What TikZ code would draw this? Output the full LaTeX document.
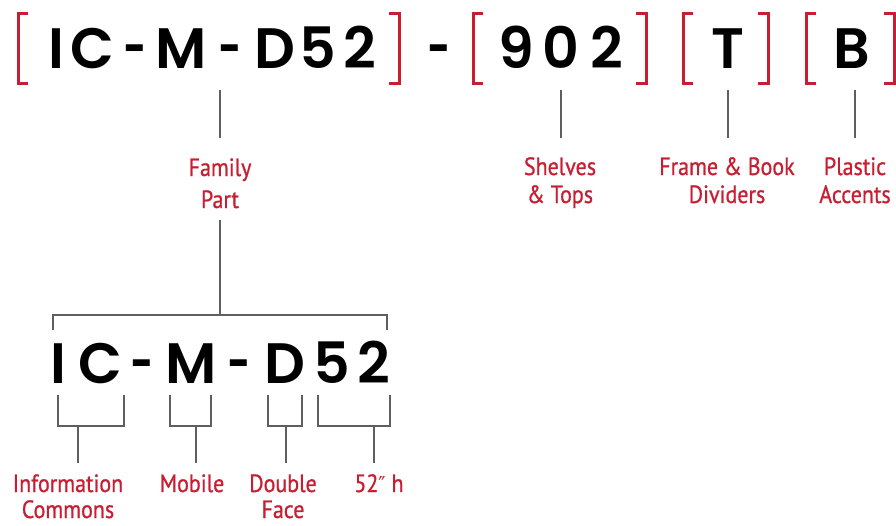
\documentclass[tikz,border=0pt]{standalone}
\usepackage{fontspec}
\newfontfamily\bigf{Poppins}[UprightFont=* SemiBold]
\newfontfamily\labf{PT Sans}[FakeStretch=0.88,FakeBold=0.8]
\newfontfamily\symf{DejaVu Sans}[FakeStretch=0.88]
\definecolor{accent}{RGB}{200,30,50}
\definecolor{rulegray}{RGB}{95,95,95}
\begin{document}
\begin{tikzpicture}[x=1pt,y=-1pt,
  big/.style={font=\bigf\fontsize{57}{57}\selectfont, anchor=base, inner sep=0pt},
  dash sign/.style={big, xscale=0.7},
  lab/.style={font=\labf\fontsize{25}{28}\selectfont, text=accent, anchor=base, inner sep=0pt},
  brk/.style={draw=accent, line width=3pt},
  conn/.style={draw=rulegray, line width=1.5pt}]
\useasboundingbox (0,0) rectangle (896,525);
% ---- top code
\node[big] (tI) at (56,68) {I};
\node[big] (tC) at (92,68) {C};
\node[dash sign] (th1) at (135,68) {-};
\node[big] (tM) at (181,68) {M};
\node[dash sign] (th2) at (230,68) {-};
\node[big] (tD) at (275,68) {D};
\node[big] (t5) at (318,68) {5};
\node[big] (t2) at (360,68) {2};
\node[dash sign] (th3) at (439,68) {-};
\node[big] (t9) at (516,68) {9};
\node[big] (t0) at (561,68) {0};
\node[big] (t2b) at (607,68) {2};
\node[big] (tT) at (728,68) {T};
\node[big] (tB) at (852,68) {B};
% brackets
\draw[brk] (28,13) -| (18,83) -- (28,83);
\draw[brk] (389,13) -| (399,83) -- (389,83);
\draw[brk] (483,13) -| (473,83) -- (483,83);
\draw[brk] (636,13) -| (646,83) -- (636,83);
\draw[brk] (693,13) -| (683,83) -- (693,83);
\draw[brk] (758,13) -| (768,83) -- (758,83);
\draw[brk] (816,13) -| (806,83) -- (816,83);
\draw[brk] (884,13) -| (894,83) -- (884,83);
% labels top
\node[lab] (fam1) at (220,176) {Family};
\node[lab] (fam2) at (220,208) {Part};
\node[lab] (sh1) at (560,175) {Shelves};
\node[lab] (sh2) at (560,203) {\& Tops};
\node[lab] (fr1) at (727,175) {Frame \& Book};
\node[lab] (fr2) at (727,203) {Dividers};
\node[lab] (pl1) at (855,175) {Plastic};
\node[lab] (pl2) at (855,203) {Accents};
% connectors top
\coordinate (cA) at (220,90);
\coordinate (cAe) at (220,138);
\coordinate (cB) at (561,90);
\coordinate (cBe) at (561,138);
\coordinate (cC) at (728,90);
\coordinate (cCe) at (728,138);
\coordinate (cD) at (855,90);
\coordinate (cDe) at (855,138);
\draw[conn] (cA) -- (cAe);
\draw[conn] (cB) -- (cBe);
\draw[conn] (cC) -- (cCe);
\draw[conn] (cD) -- (cDe);
% family part down to bracket
\coordinate (fp) at (220,220);
\coordinate (fpb) at (220,315);
\coordinate (brL) at (53,330);
\coordinate (brR) at (387,330);
\draw[conn] (fp) -- (fpb);
\draw[conn] (brL) |- (fpb) -| (brR);
% ---- bottom code
\node[big] (bI) at (58,383) {I};
\node[big] (bC) at (100,383) {C};
\node[dash sign] (bh1) at (142,383) {-};
\node[big] (bM) at (191,383) {M};
\node[dash sign] (bh2) at (239,383) {-};
\node[big] (bD) at (285,383) {D};
\node[big] (b5) at (332,383) {5};
\node[big] (b2) at (374,383) {2};
% lower brackets
\coordinate (g1a) at (58,395);  \coordinate (g1b) at (124,395); \coordinate (g1s) at (78,426);  \coordinate (g1e) at (78,463);
\coordinate (g2a) at (170,395); \coordinate (g2b) at (211,395); \coordinate (g2s) at (196,426); \coordinate (g2e) at (196,463);
\coordinate (g3a) at (268,395); \coordinate (g3b) at (302,395); \coordinate (g3s) at (286,426); \coordinate (g3e) at (286,463);
\coordinate (g4a) at (318,395); \coordinate (g4b) at (390,395); \coordinate (g4s) at (374,426); \coordinate (g4e) at (374,463);
\draw[conn] (g1a) |- (g1s) -| (g1b); \draw[conn] (g1s) -- (g1e);
\draw[conn] (g2a) |- (g2s) -| (g2b); \draw[conn] (g2s) -- (g2e);
\draw[conn] (g3a) |- (g3s) -| (g3b); \draw[conn] (g3s) -- (g3e);
\draw[conn] (g4a) |- (g4s) -| (g4b); \draw[conn] (g4s) -- (g4e);
% labels bottom
\node[lab] (in1) at (68,492) {Information};
\node[lab] (in2) at (68,518) {Commons};
\node[lab] (mo1) at (192,492) {Mobile};
\node[lab] (do1) at (283,492) {Double};
\node[lab] (do2) at (283,518) {Face};
\node[lab] (ft1) at (379,492) {52{\symf\fontsize{22}{28}\selectfont ″} h};
\end{tikzpicture}
\end{document}
